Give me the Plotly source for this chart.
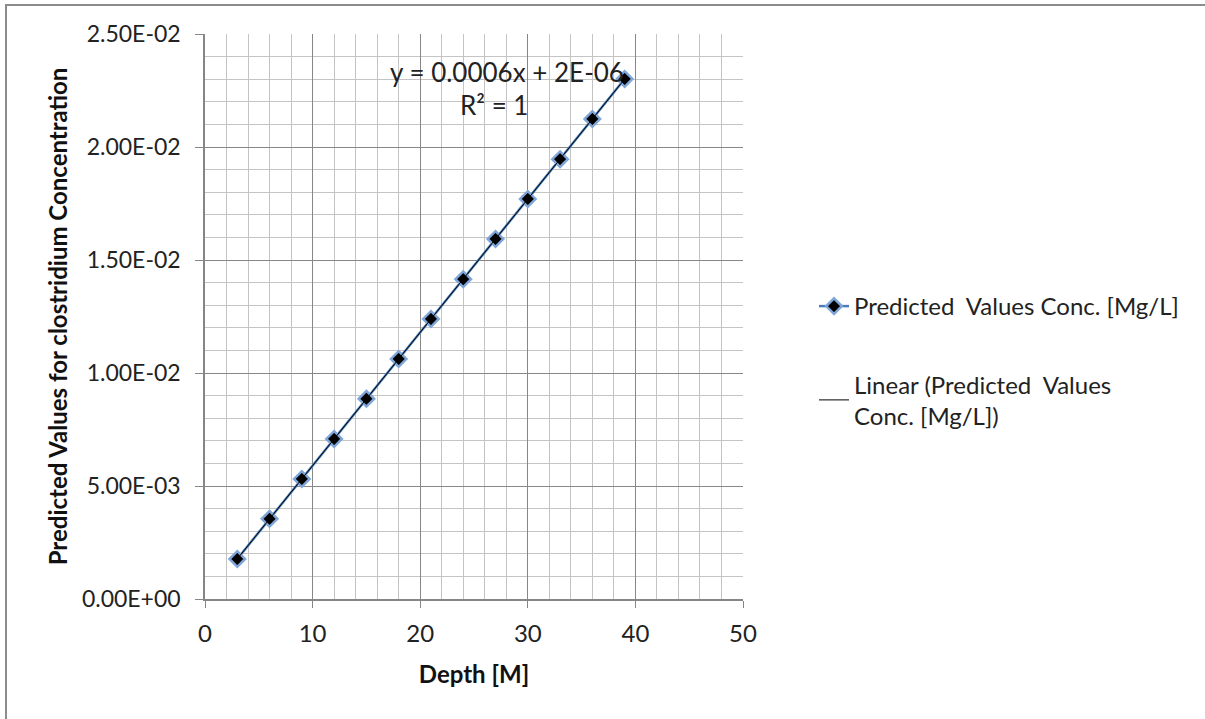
import numpy as np
import plotly.graph_objects as go

depth = [3, 6, 9, 12, 15, 18, 21, 24, 27, 30, 33, 36, 39]
conc = [0.00177, 0.00355, 0.00531, 0.00708, 0.00886, 0.01062, 0.01239,
        0.01415, 0.01593, 0.01770, 0.01946, 0.02124, 0.02301]
y_tickvals = [0, 0.005, 0.010, 0.015, 0.020, 0.025]
y_ticktext = ["0.00E+00", "5.00E-03", "1.00E-02", "1.50E-02", "2.00E-02", "2.50E-02"]
x_tickvals = [0, 10, 20, 30, 40, 50]

FONT = "Lato"
FS = 24

slope, intercept = np.polyfit(depth, conc, 1)
trend_x = [depth[0], depth[-1]]
trend_y = [slope * v + intercept for v in trend_x]

fig = go.Figure()
fig.add_trace(go.Scatter(
    x=depth, y=conc, mode="lines+markers",
    name="Predicted  Values Conc. [Mg/L]",
    line=dict(color="#4A7EBB", width=2.5),
    marker=dict(symbol="diamond", size=12, color="black",
                line=dict(color="#7FA6D8", width=2.5)),
    legendgroup="a",
))
fig.add_trace(go.Scatter(
    x=trend_x, y=trend_y, mode="lines",
    name="Linear (Predicted  Values<br>Conc. [Mg/L])",
    line=dict(color="black", width=1),
    legendgroup="b",
))

L, R, T, B = 205, 743, 34, 599
W, H = 1205, 719

def px_x(p):
    return (p - L) / (R - L)

def px_y(p):
    return (B - p) / (B - T)

fig.update_layout(
    width=W, height=H,
    margin=dict(l=L, r=W - R, t=T, b=H - B),
    paper_bgcolor="white", plot_bgcolor="white",
    font=dict(family=FONT, size=FS, color="#222"),
    showlegend=True,
    legend=dict(x=px_x(814), y=px_y(284), xanchor="left", yanchor="top",
                font=dict(family=FONT, size=FS, color="#222"),
                tracegroupgap=44, bgcolor="rgba(0,0,0,0)"),
    shapes=[dict(type="rect", xref="paper", yref="paper",
                 x0=px_x(6), x1=px_x(1215), y0=px_y(730), y1=px_y(5),
                 line=dict(color="#8C8C8C", width=2), layer="below")],
    annotations=[
        dict(text="y = 0.0006x + 2E-06", x=px_x(507), y=px_y(72), xref="paper", yref="paper",
             showarrow=False, font=dict(family=FONT, size=26, color="#222"), xanchor="center", yanchor="middle"),
        dict(text="R² = 1", x=px_x(494), y=px_y(105), xref="paper", yref="paper",
             showarrow=False, font=dict(family=FONT, size=26, color="#222"), xanchor="center", yanchor="middle"),
    ],
)

fig.update_xaxes(
    range=[0, 50], tickvals=x_tickvals, ticks="outside", ticklen=7, tickcolor="#868686",
    ticklabelstandoff=5,
    showline=True, linecolor="#868686", linewidth=1.5,
    showgrid=True, gridcolor="#878787", gridwidth=1,
    minor=dict(dtick=2, showgrid=True, gridcolor="#C4C4C4", gridwidth=1),
    zeroline=False,
    title=dict(text="<b>Depth [M]</b>", font=dict(family=FONT, size=FS, color="#111"), standoff=21),
    tickfont=dict(family=FONT, size=FS, color="#222"),
)
fig.update_yaxes(
    range=[0, 0.025], tickvals=y_tickvals, ticktext=y_ticktext,
    ticks="outside", ticklen=8, tickcolor="#868686",
    ticklabelstandoff=10,
    showline=True, linecolor="#868686", linewidth=1.5,
    showgrid=True, gridcolor="#878787", gridwidth=1,
    minor=dict(dtick=0.001, showgrid=True, gridcolor="#C4C4C4", gridwidth=1),
    zeroline=False,
    title=dict(text="<b>Predicted Values for clostridium Concentration</b>",
               font=dict(family=FONT, size=FS, color="#111"), standoff=8),
    tickfont=dict(family=FONT, size=23, color="#222"),
)

fig.write_html("out.html")
